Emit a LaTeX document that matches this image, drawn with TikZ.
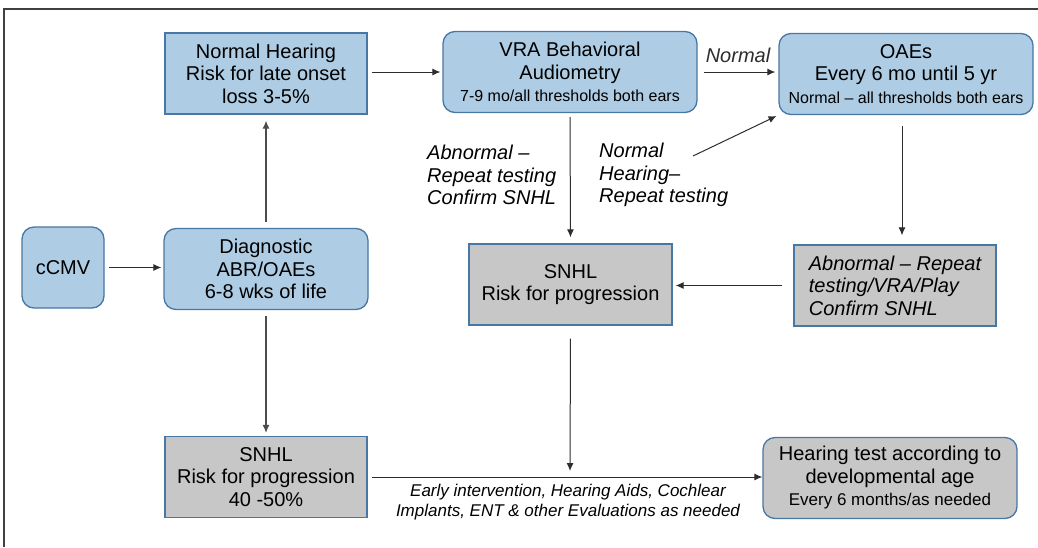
\documentclass[tikz,border=0pt]{standalone}
\usepackage{fontspec}
\setmainfont{Liberation Sans}
\usetikzlibrary{arrows.meta, positioning}
\definecolor{BoxBlue}{RGB}{174,205,228}
\definecolor{BoxGray}{RGB}{199,199,199}
\definecolor{EdgeBlue}{RGB}{72,118,165}
\definecolor{LineGray}{RGB}{45,45,45}
\tikzset{
  >=latex,  % frecce piene
  % caselle del percorso
  box/.style={draw=EdgeBlue,line width=1.3pt,align=center,inner sep=2pt,minimum height=81pt,font=\fontsize{20}{22.5}\selectfont},
  box blue/.style={box,fill=BoxBlue},
  box gray/.style={box,fill=BoxGray},
  box round/.style={rounded corners=12pt},
  % etichette sulle frecce
  lab/.style={align=left,inner sep=0pt,font=\fontsize{20}{22.5}\selectfont\itshape},
  % connessioni
  connect arrow/.style={-{Latex[length=8,width=7]},line width=1pt,LineGray,shorten <=4,shorten >=3}
}
\newcommand{\smalltxt}[1]{{\fontsize{16}{19}\selectfont #1}}
\begin{document}
\begin{tikzpicture}[x=1pt,y=-1pt]
  \useasboundingbox (0,0) rectangle (1038,547);
  \draw[line width=1.5pt,black!75] (4,547) -- (4,9) -- (1038,9);

  \node[box blue,minimum width=202] (nh) at (266,73.5) {Normal Hearing\\Risk for late onset\\loss 3-5\%};
  \node[box blue,box round,minimum width=254] (vra) at (570,72) {VRA Behavioral\\Audiometry\\\smalltxt{7-9 mo/all thresholds both ears}};
  \node[box blue,box round,minimum width=254] (oae) at (906,74) {OAEs\\Every 6 mo until 5 yr\\\smalltxt{Normal -- all thresholds both ears}};
  \node[box blue,box round,minimum width=82] (ccmv) at (63,267.5) {cCMV};
  \node[box blue,box round,minimum width=204] (diag) at (266,269) {Diagnostic\\ABR/OAEs\\6-8 wks of life};
  \node[box gray,minimum width=203] (snhlmid) at (570.5,284.5) {SNHL\\Risk for progression};
  \node[box gray,minimum width=202,align=left,font=\fontsize{20}{22.5}\selectfont\itshape] (abn) at (895,285.5) {Abnormal -- Repeat\\testing/VRA/Play\\Confirm SNHL};
  \node[box gray,minimum width=202] (snhlbot) at (266,477) {SNHL\\Risk for progression\\40 -50\%};
  \node[box gray,box round,minimum width=254] (hear) at (890,478) {Hearing test according to\\developmental age\\{\fontsize{17}{20}\selectfont Every 6 months/as needed}};

  \node[lab,anchor=west] (abnlab) at (427,175) {Abnormal --\\Repeat testing\\Confirm SNHL};
  \node[lab,anchor=west] (normlab) at (599,175) {Normal\\Hearing--\\Repeat testing};
  \node[align=center,inner sep=0pt,font=\fontsize{17}{20}\selectfont\itshape] (treat) at (568,502) {Early intervention, Hearing Aids, Cochlear\\Implants, ENT \& other Evaluations as needed};

  \coordinate (nhrep) at (693,156);
  \coordinate (join) at (570,477);

  \draw[connect arrow,shorten >=2] (ccmv.east) -- (ccmv.east -| diag.west);
  \draw[connect arrow,black!70,line width=1.2pt,shorten <=6,shorten >=6] (diag.north) -- (nh.south);
  \draw[connect arrow,black!70,line width=1.2pt,shorten <=6,shorten >=3] (diag.south) -- (snhlbot.north);
  \draw[connect arrow,shorten >=2] (nh.east |- vra.west) -- (vra.west);
  \draw[connect arrow,shorten <=6] (vra.east) -- (vra.east -| oae.west) node[midway,above=9pt,lab] {Normal};
  \draw[connect arrow,shorten >=6] (vra.south) -- (snhlmid.north);
  \draw[connect arrow,shorten <=0,shorten >=2] (nhrep) -- (oae.south west);
  \draw[connect arrow,shorten <=11,shorten >=9] ([xshift=-4]oae.south) -- ([xshift=7]abn.north);
  \draw[connect arrow,shorten <=11] (abn.west) -- (abn.west -| snhlmid.east);
  \draw[connect arrow,shorten <=13,shorten >=6] (snhlmid.south) -- (join);
  \draw[connect arrow,shorten >=0] (snhlbot.east) -- (snhlbot.east -| hear.west);
\end{tikzpicture}
\end{document}
